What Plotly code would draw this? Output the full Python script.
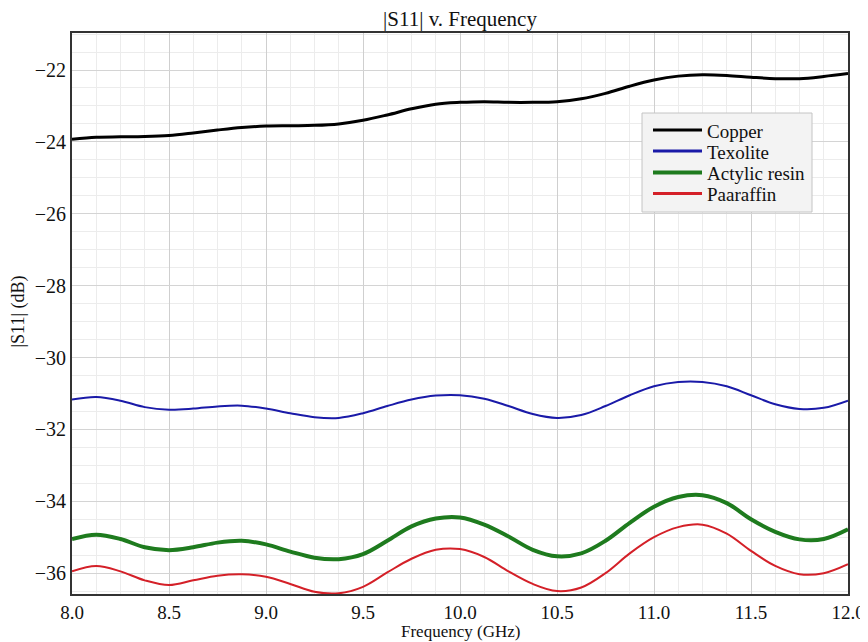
import plotly.graph_objects as go

freq = [8.0, 8.125, 8.25, 8.375, 8.5, 8.625, 8.75, 8.875, 9.0, 9.125, 9.25, 9.375, 9.5,
        9.625, 9.75, 9.875, 10.0, 10.125, 10.25, 10.375, 10.5, 10.625, 10.75, 10.875,
        11.0, 11.125, 11.25, 11.375, 11.5, 11.625, 11.75, 11.875, 12.0]

copper = [-23.93, -23.87, -23.86, -23.85, -23.82, -23.75, -23.67, -23.6, -23.56, -23.55,
          -23.54, -23.5, -23.4, -23.25, -23.08, -22.95, -22.9, -22.88, -22.9, -22.9,
          -22.88, -22.8, -22.65, -22.45, -22.28, -22.17, -22.13, -22.15, -22.2, -22.24,
          -22.24, -22.18, -22.1]

texolite = [-31.17, -31.1, -31.2, -31.38, -31.45, -31.42, -31.36, -31.34, -31.42, -31.55,
            -31.66, -31.68, -31.55, -31.35, -31.17, -31.06, -31.05, -31.15, -31.35, -31.57,
            -31.68, -31.6, -31.35, -31.05, -30.8, -30.68, -30.68, -30.8, -31.05, -31.3,
            -31.43, -31.4, -31.2]

acrylic = [-35.05, -34.93, -35.05, -35.28, -35.36, -35.28, -35.15, -35.1, -35.2, -35.4,
           -35.57, -35.61, -35.47, -35.1, -34.7, -34.48, -34.45, -34.65, -34.98, -35.35,
           -35.53, -35.45, -35.1, -34.6, -34.15, -33.88, -33.83, -34.05, -34.5, -34.85,
           -35.06, -35.05, -34.78]

paraffin = [-35.95, -35.8, -35.95, -36.2, -36.33, -36.2, -36.07, -36.03, -36.1, -36.3,
            -36.52, -36.56, -36.38, -35.98, -35.6, -35.35, -35.33, -35.55, -35.95, -36.3,
            -36.5, -36.4, -36.0, -35.45, -35.0, -34.72, -34.65, -34.9, -35.38, -35.8,
            -36.03, -36.0, -35.75]

x_ticks = [8.0, 8.5, 9.0, 9.5, 10.0, 10.5, 11.0, 11.5, 12.0]
y_ticks = [-36, -34, -32, -30, -28, -26, -24, -22]

names = ["Copper", "Texolite", "Actylic resin", "Paaraffin"]
values = [copper, texolite, acrylic, paraffin]
colors = ["#000000", "#1a1aa8", "#1e7b1e", "#d42028"]
widths = [3, 2, 4, 2]
legend_widths = [3, 3, 4, 3]

FONT = "'Liberation Serif', 'Times New Roman', Times, serif"

fig = go.Figure()
for name, vals, color, w in zip(names, values, colors, widths):
    fig.add_trace(go.Scatter(x=freq, y=vals, name=name, mode="lines", showlegend=False,
                             line=dict(color=color, width=w, shape="spline", smoothing=1.0)))

# plot-area geometry (figure pixels) used to place the custom legend box
PX0, PW, PY0, PH = 64, 776, 25, 561
def px(x):  # screenshot x -> paper
    return (x - 8 - PX0) / PW
def py(y):  # screenshot y -> paper
    return 1 - (y - 8 - PY0) / PH

shapes = [dict(type="rect", xref="paper", yref="paper",
               x0=px(642), x1=px(812), y0=py(212), y1=py(113),
               fillcolor="#f3f3f3", line=dict(color="#c4c4c4", width=1), layer="above")]
annotations = []
row_y = [130, 151, 172.5, 193.5]
for name, color, lw, ry in zip(names, colors, legend_widths, row_y):
    shapes.append(dict(type="line", xref="paper", yref="paper",
                       x0=px(653), x1=px(702), y0=py(ry), y1=py(ry),
                       line=dict(color=color, width=lw), layer="above"))
    annotations.append(dict(text=name, xref="paper", yref="paper", x=px(705), y=py(ry + 1),
                            xanchor="left", yanchor="middle", showarrow=False,
                            font=dict(family=FONT, size=19, color="#111")))

annotations.append(dict(text="Frequency (GHz)", xref="paper", yref="paper", x=0.5, y=0,
                        xanchor="center", yanchor="middle", yshift=-37, showarrow=False,
                        font=dict(family=FONT, size=17, color="#111")))
annotations.append(dict(text="|S11| (dB)", xref="paper", yref="paper", x=0, y=py(311.5),
                        xanchor="center", yanchor="middle", xshift=-54, textangle=-90,
                        showarrow=False, font=dict(family=FONT, size=18, color="#111")))

fig.update_layout(
    width=860, height=634,
    margin=dict(l=64, r=20, t=25, b=48, autoexpand=False),
    paper_bgcolor="white", plot_bgcolor="white",
    font=dict(family=FONT, size=18, color="#111"),
    title=dict(text="|S11| v. Frequency", x=0.5, xref="paper", xanchor="center",
               y=0.983, yanchor="middle",
               font=dict(family=FONT, size=21, color="#111111")),
    showlegend=False,
    shapes=shapes,
    annotations=annotations,
)

fig.update_xaxes(range=[8.0, 12.0], tickvals=x_ticks, ticktext=[f"{v:.1f}" for v in x_ticks],
                 showgrid=True, gridcolor="#cfcfcf", gridwidth=1,
                 minor=dict(dtick=0.125, showgrid=True, gridcolor="#ececec", gridwidth=1),
                 showline=True, linecolor="#333", linewidth=2, mirror=True,
                 ticks="", ticklen=0, zeroline=False, automargin=False,
                 tickfont=dict(family=FONT, size=19))

fig.update_yaxes(range=[-36.58, -20.97], tickvals=y_ticks,
                 showgrid=True, gridcolor="#d4d4d4", gridwidth=1,
                 minor=dict(dtick=0.5, tick0=-36, showgrid=True, gridcolor="#ececec", gridwidth=1),
                 showline=True, linecolor="#333", linewidth=2, mirror=True,
                 ticks="", ticklen=0, zeroline=False, automargin=False,
                 tickfont=dict(family=FONT, size=20))

fig.write_html("out.html")
